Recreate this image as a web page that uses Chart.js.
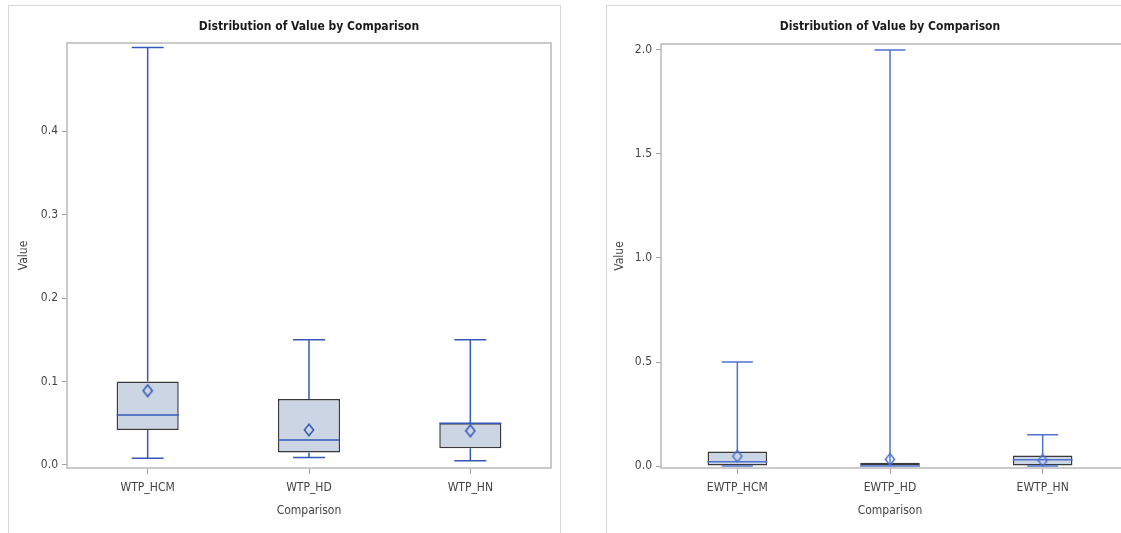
<!DOCTYPE html>
<html>
<head>
<meta charset="utf-8">
<script src="https://cdn.jsdelivr.net/npm/chart.js@4.4.1/dist/chart.umd.min.js"></script>
<style>
  html, body { margin: 0; padding: 0; background: #fff; overflow: hidden; width: 1121px; height: 533px; }
  .panel { position: absolute; top: 5px; height: 540px; border: 1px solid #d6d6d6; border-bottom: none; box-sizing: border-box; }
  #leftPanel { left: 8px; width: 553px; }
  #rightPanel { left: 606px; width: 600px; border-right: none; }
  .wrap { position: absolute; top: 5px; }
  #leftWrap { left: 8px; }
  #rightWrap { left: 606px; }
</style>
</head>
<body>
<div id="leftPanel" class="panel"></div>
<div id="rightPanel" class="panel"></div>
<div id="leftWrap" class="wrap"><canvas id="leftChart" width="552" height="528"></canvas></div>
<div id="rightWrap" class="wrap"><canvas id="rightChart" width="518" height="528"></canvas></div>
<script>
// left panel: WTP
const leftCategories = ['WTP_HCM', 'WTP_HD', 'WTP_HN'];
const leftMin = [0.008, 0.009, 0.005];
const leftQ1 = [0.042, 0.015, 0.02];
const leftMedian = [0.06, 0.03, 0.05];
const leftQ3 = [0.1, 0.079, 0.05];
const leftMax = [0.5, 0.15, 0.15];
const leftMean = [0.089, 0.042, 0.041];
const leftTicks = [0, 0.1, 0.2, 0.3, 0.4];

// right panel: EWTP
const rightCategories = ['EWTP_HCM', 'EWTP_HD', 'EWTP_HN'];
const rightMin = [0, 0, 0];
const rightQ1 = [0, 0, 0];
const rightMedian = [0.02, 0, 0.03];
const rightQ3 = [0.07, 0.016, 0.05];
const rightMax = [0.5, 2.0, 0.15];
const rightMean = [0.047, 0.032, 0.027];
const rightTicks = [0, 0.5, 1.0, 1.5, 2.0];

const fontFamily = "'Liberation Sans Narrow', 'Arial Narrow', 'DejaVu Sans Condensed', sans-serif";
Chart.defaults.font.family = fontFamily;
Chart.defaults.animation = false;

function diamond(color) {
  const c = document.createElement('canvas');
  c.width = 12; c.height = 14;
  const g = c.getContext('2d');
  g.strokeStyle = color;
  g.lineWidth = 1.5;
  g.beginPath();
  g.moveTo(6, 1.2); g.lineTo(10.6, 7); g.lineTo(6, 12.8); g.lineTo(1.4, 7);
  g.closePath();
  g.stroke();
  return c;
}

// frame, whiskers, caps and medians drawn from the chart's own scales
const boxParts = {
  id: 'boxParts',
  beforeDatasetsDraw(chart, args, opts) {
    const { ctx, chartArea: a } = chart;
    ctx.save();
    ctx.strokeStyle = '#b9b9b9';
    ctx.lineWidth = 1.5;
    if (opts.openRight) {
      // plot runs off the page on the right: no right edge
      ctx.beginPath();
      ctx.moveTo(chart.width, a.top); ctx.lineTo(a.left, a.top);
      ctx.lineTo(a.left, a.bottom); ctx.lineTo(chart.width, a.bottom);
      ctx.stroke();
    } else {
      ctx.strokeRect(a.left, a.top, a.right - a.left, a.bottom - a.top);
    }
    ctx.restore();
  },
  afterDatasetDraw(chart, args, opts) {
    if (args.meta.type !== 'bar') return;
    const { ctx, scales: { x, y } } = chart;
    ctx.save();
    ctx.strokeStyle = opts.color;
    ctx.lineWidth = 1.5;
    opts.min.forEach((lo, i) => {
      const cx = x.getPixelForValue(i);
      const yLo = y.getPixelForValue(lo);
      const yHi = y.getPixelForValue(opts.max[i]);
      const yQ1 = y.getPixelForValue(opts.q1[i]);
      const yQ3 = y.getPixelForValue(opts.q3[i]);
      const yMed = y.getPixelForValue(opts.median[i]);
      const half = opts.boxHalf;
      ctx.beginPath();
      ctx.moveTo(cx, yLo); ctx.lineTo(cx, yQ1);
      ctx.moveTo(cx, yQ3); ctx.lineTo(cx, yHi);
      ctx.moveTo(cx - opts.cap, yLo); ctx.lineTo(cx + opts.cap, yLo);
      ctx.moveTo(cx - opts.cap, yHi); ctx.lineTo(cx + opts.cap, yHi);
      ctx.moveTo(cx - half, yMed); ctx.lineTo(cx + half, yMed);
      ctx.stroke();
    });
    ctx.restore();
  }
};

function makeChart(id, cfg) {
  const textColor = '#444';
  return new Chart(document.getElementById(id), {
    type: 'bar',
    data: {
      labels: cfg.labels,
      datasets: [{
        type: 'line',
        data: cfg.mean,
        showLine: false,
        pointStyle: diamond(cfg.color),
        order: 0
      }, {
        data: cfg.q1.map((q, i) => [q, cfg.q3[i]]),
        backgroundColor: '#cbd5e4',
        borderColor: '#3a3a3a',
        borderWidth: 1.5,
        borderSkipped: false,
        barPercentage: cfg.barPct,
        categoryPercentage: 1,
        order: 1
      }]
    },
    options: {
      responsive: false,
      layout: { padding: { left: 0, right: cfg.padRight, top: 0, bottom: 0 } },
      plugins: {
        legend: { display: false },
        tooltip: { enabled: false },
        title: {
          display: true,
          text: 'Distribution of Value by Comparison',
          fullSize: false,
          color: '#1a1a1a',
          font: { size: 12, weight: 'bold' },
          padding: { top: 15.0, bottom: cfg.titleBottom }
        },
        boxParts: {
          min: cfg.min, max: cfg.max, q1: cfg.q1, q3: cfg.q3, median: cfg.median,
          color: cfg.color, cap: cfg.cap, boxHalf: cfg.boxHalf, openRight: cfg.openRight
        }
      },
      scales: {
        x: {
          type: 'category',
          offset: true,
          afterFit: s => { s.height = 65; },
          grid: { offset: false, drawOnChartArea: false, tickLength: 6, color: '#a0a0a0' },
          border: { display: false },
          ticks: { padding: 7, color: textColor, font: { size: 12 }, maxRotation: 0, autoSkip: false },
          title: { display: true, text: 'Comparison', color: textColor, font: { size: 12 }, padding: { top: 0, bottom: 14.5 } }
        },
        y: {
          type: 'linear',
          min: cfg.yMin,
          max: cfg.yMax,
          afterBuildTicks: s => { s.ticks = cfg.ticks.map(v => ({ value: v })); },
          afterFit: s => { s.width = cfg.yWidth; },
          grid: { drawOnChartArea: false, tickLength: 5, color: '#a0a0a0' },
          border: { display: false },
          ticks: { padding: 4, color: textColor, font: { size: 12 }, callback: v => v.toFixed(1) },
          title: { display: true, text: 'Value', color: textColor, font: { size: 12 }, padding: { top: cfg.yTitlePad, bottom: 0 } }
        }
      }
    },
    plugins: [boxParts]
  });
}

makeChart('leftChart', {
  labels: leftCategories, min: leftMin, q1: leftQ1, median: leftMedian, q3: leftQ3, max: leftMax,
  mean: leftMean, ticks: leftTicks, yMin: -0.0036, yMax: 0.5054,
  color: '#3358b8', barPct: 0.385, cap: 16, boxHalf: 31,
  padRight: 9, yWidth: 59, yTitlePad: 8.8, titleBottom: 8.6, openRight: false
});

makeChart('rightChart', {
  labels: rightCategories, min: rightMin, q1: rightQ1, median: rightMedian, q3: rightQ3, max: rightMax,
  mean: rightMean, ticks: rightTicks, yMin: -0.0096, yMax: 2.0288,
  color: '#4f73cf', barPct: 0.39, cap: 15.5, boxHalf: 30,
  padRight: 2, yWidth: 55, yTitlePad: 6.8, titleBottom: 9.6, openRight: true
});
</script>
</body>
</html>
